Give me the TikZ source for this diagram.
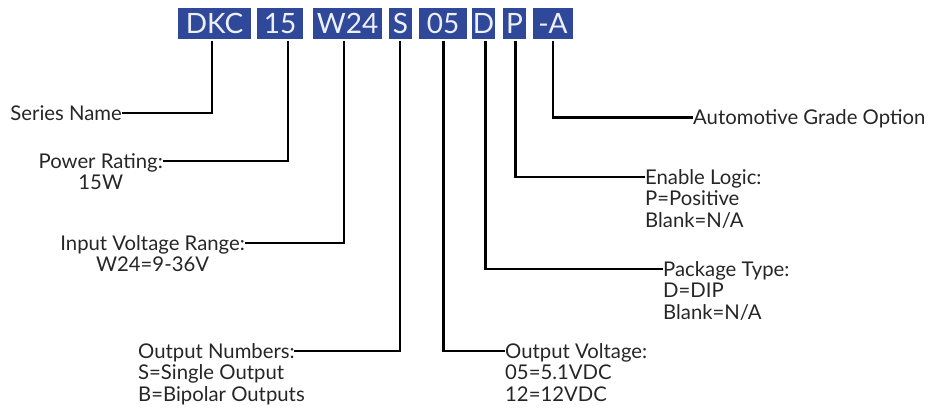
\documentclass[tikz,border=0pt]{standalone}
\usepackage{fontspec}
\setmainfont{Lato}
\definecolor{boxblue}{RGB}{47,72,153}
\begin{document}
\begin{tikzpicture}[x=1pt,y=-1pt,
  code/.style={fill=boxblue,text=white!92!boxblue,inner sep=0pt,minimum height=31pt,font=\fontsize{28}{28}\selectfont},
  lbl/.style={inner sep=0pt,text=black!85,font=\fontsize{20.3}{21.5}\selectfont},
  conn/.style={line width=2.3pt}]
\path[use as bounding box] (0,0) rectangle (928,408);
% code boxes
\node[code,minimum width=73pt] (dkc) at (214.5,23.5) {DKC};
\node[code,minimum width=46pt] (pw)  at (280,23.5) {15};
\node[code,minimum width=69pt] (vin) at (347.5,23.5) {W24};
\node[code,minimum width=23pt] (sgl) at (400.5,23.5) {S};
\node[code,minimum width=48pt] (vo)  at (443,23.5) {05};
\node[code,minimum width=23pt] (pkg) at (483.5,23.5) {D};
\node[code,minimum width=23pt] (en)  at (514.5,23.5) {P};
\node[code,minimum width=40pt] (ag)  at (553,23.5) {-A};
% connector start points
\coordinate (s1) at ([xshift=-2.5pt,yshift=-1.5pt]dkc.south);
\coordinate (s2) at ([xshift=8pt,yshift=-1.5pt]pw.south);
\coordinate (s3) at ([xshift=-3.5pt,yshift=-1.5pt]vin.south);
\coordinate (s4) at ([xshift=-0.5pt,yshift=-1.5pt]sgl.south);
\coordinate (s5) at ([xshift=0.5pt,yshift=-1.5pt]vo.south);
\coordinate (s6) at ([xshift=2pt,yshift=-1.5pt]pkg.south);
\coordinate (s7) at ([xshift=1pt,yshift=-1.5pt]en.south);
\coordinate (s8) at ([yshift=-1.5pt]ag.south);
% labels (base anchor = baseline of the last line)
\node[lbl,anchor=base east] (series) at (122,120.3) {Series Name};
\node[lbl,anchor=base east,align=center] (power) at (163,189.8) {Power Rating:\\15W};
\node[lbl,anchor=base east,align=center] (input) at (245,271.8) {Input Voltage Range:\\W24=9-36V};
\node[lbl,anchor=base west,align=left] (outn) at (138,401.3) {Output Numbers:\\S=Single Output\\B=Bipolar Outputs};
\node[lbl,anchor=base west,align=left] (outv) at (505,401.3) {Output Voltage:\\05=5.1VDC\\12=12VDC};
\node[lbl,anchor=base west] (auto) at (693,124.8) {Automotive Grade Option};
\node[lbl,anchor=base west,align=left] (enl) at (645,227.3) {Enable Logic:\\P=Positive\\Blank=N/A};
\node[lbl,anchor=base west,align=left] (pkt) at (663,319.3) {Package Type:\\D=DIP\\Blank=N/A};
% connectors
\draw[conn] (s1) |- ([yshift=7.3pt]series.base east);
\draw[conn] (s2) |- ([yshift=28.8pt]power.base east);
\draw[conn] (s3) |- ([yshift=28.8pt]input.base east);
\draw[conn] (s4) |- ([xshift=156pt,yshift=50.3pt]outn.base west);
\draw[conn] (s5) |- ([yshift=50.3pt]outv.base west);
\draw[conn] (s6) |- ([yshift=50.3pt]pkt.base west);
\draw[conn] (s7) |- ([yshift=50.3pt]enl.base west);
\draw[conn] (s8) |- ([yshift=7.3pt]auto.base west);
\end{tikzpicture}
\end{document}
